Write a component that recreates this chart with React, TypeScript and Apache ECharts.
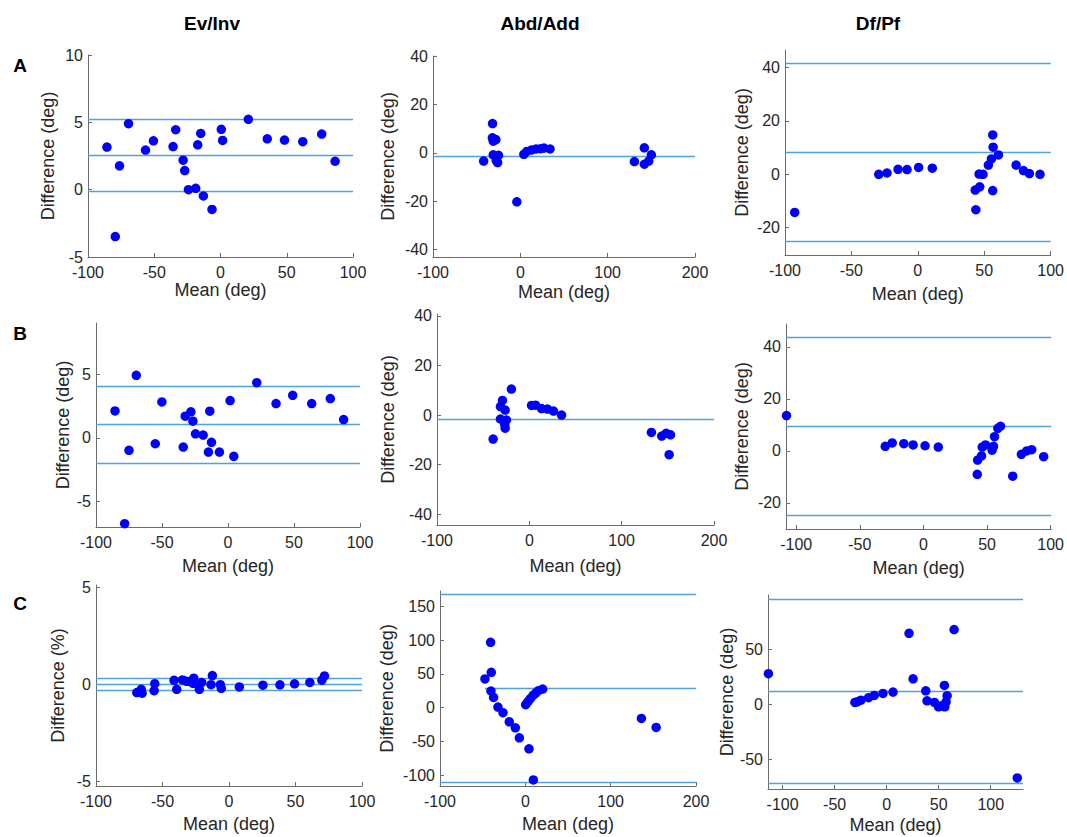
import React, { useEffect, useRef } from "react";
import * as echarts from "echarts";

// ---- data: [mean, difference] pairs per panel ----
const evInvA: [number, number][] = [
  [-85.7, 3.16], [-79.4, -3.48], [-76.2, 1.77], [-69.4, 4.9], [-56.6, 2.94], [-50.6, 3.63],
  [-35.8, 3.2], [-33.8, 4.45], [-28.2, 2.19], [-27, 1.42], [-24.2, 0], [-18.7, 0.1],
  [-17.2, 3.33], [-14.9, 4.18], [-12.9, -0.47], [-6.4, -1.47], [0.6, 4.48], [1.6, 3.66],
  [21, 5.22], [35.3, 3.78], [48.3, 3.68], [62.1, 3.56], [76.4, 4.13], [86.5, 2.11],
];
const evInvALines = [5.2, 2.54, -0.12];

const abdAddA: [number, number][] = [
  [-42, -3.4], [-31.8, 12.1], [-32, 6.2], [-28, 5.5], [-31, 4.8], [-31, -0.8], [-25, -1],
  [-27.6, -3.1], [-26, -4], [-4, -20.2], [4, -0.6], [7.5, 0.6], [13, 1.2], [18, 1.6],
  [23, 1.7], [27, 2], [34, 1.6], [130.6, -3.6], [142, 2.1], [142, -4.7], [147, -3.4], [150, -0.8],
];
const abdAddALines = [-1.3];

const dfPfA: [number, number][] = [
  [-92.7, -14.4], [-29.4, -0.1], [-23.2, 0.4], [-14.9, 1.8], [-8.1, 1.7], [0.6, 2.5], [10.9, 2.2],
  [43.2, -6], [43.7, -13.4], [46.6, -4.8], [46.1, 0], [49.1, -0.1], [53.1, 3.4], [55.4, 5.7],
  [56.4, -6.2], [56.4, 14.7], [56.7, 10.1], [60.7, 7.2], [74, 3.4], [79.5, 1.3], [84, 0.2], [92, -0.1],
];
const dfPfALines = [41.6, 8.2, -25.2];

const evInvB: [number, number][] = [
  [-85.6, 2.1], [-78.3, -6.74], [-75, -0.99], [-69.5, 4.9], [-55.1, -0.47], [-50.1, 2.81],
  [-33.9, -0.73], [-32.4, 1.69], [-28.1, 2.03], [-26.6, 1.3], [-24.6, 0.31], [-18.8, 0.21],
  [-13.8, 2.08], [-14.8, -1.12], [-12.5, -0.36], [-6.5, -1.12], [1.6, 2.92], [4.4, -1.46],
  [21.8, 4.32], [36.4, 2.68], [49, 3.33], [63.4, 2.68], [77.5, 3.07], [87.6, 1.43],
];
const evInvBLines = [4.06, 1.02, -2.0];

const abdAddB: [number, number][] = [
  [-39.2, -9.7], [-31.3, -1.6], [-31.3, 3.4], [-29.1, 5.9], [-26.2, 2], [-24.8, -2],
  [-26.2, -5.3], [-26.6, -3.8], [-19.4, 10.5], [2.4, 3.9], [6.7, 4.0], [13.2, 2.6],
  [19.7, 2.4], [26.2, 1.6], [34.9, 0], [132.2, -7.0], [143.4, -8.5], [148.2, -7.4],
  [152.9, -8], [151.4, -16],
];
const abdAddBLines = [-1.6];

const dfPfB: [number, number][] = [
  [-107.6, 13.6], [-30, 1.8], [-24.5, 3.1], [-15.4, 2.8], [-8.1, 2.3], [1.3, 2.0], [11.7, 1.5],
  [42.3, -9], [42.6, -3.5], [45.7, -1.9], [46.2, 1.5], [48.8, 2.3], [54, 0.3], [55.1, 1.8],
  [55.9, 5.5], [58.5, 8.7], [60.6, 9.5], [70.2, -9.7], [77, -1.3], [81.2, 0], [85.1, 0.5], [94.5, -2.2],
];
const dfPfBLines = [43.8, 9.5, -24.9];

const evInvC: [number, number][] = [
  [-69.3, -0.43], [-66, -0.26], [-65.3, -0.46], [-56.3, -0.33], [-55.8, 0.03], [-41.3, 0.2],
  [-39.3, -0.26], [-35, 0.22], [-31.8, 0.15], [-29.3, 0.14], [-27, 0.05], [-26.5, 0.31],
  [-22.3, -0.26], [-20.5, 0.09], [-13.5, -0.02], [-12.5, 0.45], [-6.5, -0.02], [-5.8, -0.21],
  [7.8, -0.14], [25.5, -0.05], [38.3, -0.03], [49.3, 0.02], [60.8, 0.09], [69.8, 0.21], [71.8, 0.43],
];
const evInvCLines = [0.29, 0, -0.29];

const abdAddC: [number, number][] = [
  [-47.3, 42.6], [-40.7, 97], [-39.9, 52.5], [-40.3, 24.8], [-37.2, 15.3], [-32.1, 1],
  [-26.2, -7.4], [-18.8, -20.8], [-11.7, -29.7], [-7, -44.6], [4.3, -60.9], [9.4, -107],
  [0.4, 4.5], [3.1, 8.9], [5.9, 13.4], [9, 18.3], [12.1, 21.8], [15.3, 25.2], [20.3, 27.7],
  [136, -15.8], [153.3, -29.2],
];
const abdAddCLines = [168.8, 28.2, -110.9];

const dfPfC: [number, number][] = [
  [-113.6, 27.6], [-30.5, 1.5], [-28.3, 2.1], [-24.7, 3.6], [-17.3, 5.8], [-11.9, 7.9],
  [-3.5, 9.7], [6.1, 10.9], [21.5, 64.2], [25.4, 23], [37.6, 12.1], [38.8, 3], [45.9, 1.5],
  [49.8, -2.4], [52.6, -1.5], [55.9, -2.4], [55.5, 17], [57.1, 2.1], [58.1, 7.6], [64.8, 67.6],
  [125.5, -67],
];
const dfPfCLines = [95.5, 11.5, -72.1];

const columnTitles = ["Ev/Inv", "Abd/Add", "Df/Pf"];
const rowLabels = ["A", "B", "C"];

const ticks100 = [-100, -50, 0, 50, 100];
const ticks200 = [-100, 0, 100, 200];

type Panel = {
  data: [number, number][];
  lines: number[];
  grid: [number, number, number, number];
  xr: [number, number];
  yr: [number, number];
  xt: number[];
  yt: number[];
  yName: string;
  yGap: number;
  xGap: number;
  midFromMin?: boolean;
};

const panels: Panel[] = [
  { data: evInvA, lines: evInvALines, grid: [88, 55, 265, 202], xr: [-100, 100], yr: [-5, 10], xt: ticks100, yt: [-5, 0, 5, 10], yName: "Difference (deg)", yGap: 31, xGap: 20 },
  { data: abdAddA, lines: abdAddALines, grid: [433, 56, 262, 201], xr: [-100, 200], yr: [-43, 40], xt: ticks200, yt: [-40, -20, 0, 20, 40], yName: "Difference (deg)", yGap: 36, xGap: 26 },
  { data: dfPfA, lines: dfPfALines, grid: [785, 50, 267, 205], xr: [-100, 100], yr: [-30.4, 46.6], xt: ticks100, yt: [-20, 0, 20, 40], yName: "Difference (deg)", yGap: 34, xGap: 30 },
  { data: evInvB, lines: evInvBLines, grid: [96, 323, 264, 204], xr: [-100, 100], yr: [-7, 9], xt: ticks100, yt: [-5, 0, 5], yName: "Difference (deg)", yGap: 24, xGap: 30 },
  { data: abdAddB, lines: abdAddBLines, grid: [437, 314, 277, 211], xr: [-100, 200], yr: [-44.4, 40.8], xt: ticks200, yt: [-40, -20, 0, 20, 40], yName: "Difference (deg)", yGap: 40, xGap: 32 },
  { data: dfPfB, lines: dfPfBLines, grid: [786, 324, 266, 205], xr: [-108, 100.5], yr: [-30, 48.8], xt: ticks100, yt: [-20, 0, 20, 40], yName: "Difference (deg)", yGap: 35, xGap: 30 },
  { data: evInvC, lines: evInvCLines, grid: [96, 585, 266, 201], xr: [-100, 100], yr: [-5.25, 5.12], xt: ticks100, yt: [-5, 0, 5], yName: "Difference (%)", yGap: 29, xGap: 29 },
  { data: abdAddC, lines: abdAddCLines, grid: [440, 591, 256, 195], xr: [-100, 200], yr: [-116, 173], xt: ticks200, yt: [-100, -50, 0, 50, 100, 150], yName: "Difference (deg)", yGap: 44, xGap: 29, midFromMin: true },
  { data: dfPfC, lines: dfPfCLines, grid: [768, 595, 255, 194], xr: [-114, 131], yr: [-77, 99], xt: ticks100, yt: [-50, 0, 50], yName: "Difference (deg)", yGap: 32, xGap: 27 },
];

const FONT = "Liberation Sans, Arial, Helvetica, sans-serif";
const AXIS_COLOR = "#6b6b6b";
const TEXT_COLOR = "#262626";
const LINE_COLOR = "#4ea2e0";
const DOT_COLOR = "#0000ff";

export default function App() {
  const ref = useRef<HTMLDivElement>(null);
  useEffect(() => {
    if (!ref.current) return;
    const chart = echarts.init(ref.current, undefined, { renderer: "svg" });

    const grid = panels.map((p) => ({
      left: p.grid[0], top: p.grid[1], width: p.grid[2], height: p.grid[3], containLabel: false,
    }));
    const axisCommon = {
      axisLine: { show: true, onZero: false, lineStyle: { color: AXIS_COLOR, width: 1 } },
      splitLine: { show: false },
      nameTextStyle: { fontFamily: FONT, fontSize: 18, color: TEXT_COLOR },
    };
    const xAxis = panels.map((p, i) => ({
      type: "value", gridIndex: i, min: p.xr[0], max: p.xr[1],
      name: "Mean (deg)", nameLocation: "middle", nameGap: p.xGap,
      ...axisCommon,
      axisTick: { show: true, inside: true, length: 4, customValues: p.xt, lineStyle: { color: AXIS_COLOR } },
      axisLabel: { show: true, customValues: p.xt, margin: 7, fontFamily: FONT, fontSize: 16, color: TEXT_COLOR },
    }));
    const yAxis = panels.map((p, i) => ({
      type: "value", gridIndex: i, min: p.yr[0], max: p.yr[1],
      name: p.yName, nameLocation: "middle", nameGap: p.yGap, nameRotate: 90,
      ...axisCommon,
      axisTick: { show: true, inside: true, length: 4, customValues: p.yt, lineStyle: { color: AXIS_COLOR } },
      axisLabel: { show: true, customValues: p.yt, margin: 5, fontFamily: FONT, fontSize: 16, color: TEXT_COLOR },
    }));

    const series = panels.map((p, i) => {
      const minX = Math.min(...p.data.map((d) => d[0]));
      const lineData = p.lines.map((v, k) => {
        if (p.midFromMin && k === 1) {
          return [{ coord: [minX, v] }, { coord: [p.xr[1], v] }];
        }
        return { yAxis: v };
      });
      return {
        type: "scatter",
        xAxisIndex: i,
        yAxisIndex: i,
        data: p.data,
        symbol: "circle",
        symbolSize: 9.5,
        itemStyle: { color: DOT_COLOR, opacity: 1 },
        z: 3,
        markLine: {
          silent: true,
          symbol: ["none", "none"],
          label: { show: false },
          lineStyle: { color: LINE_COLOR, width: 1.3, type: "solid" },
          data: lineData,
          z: 2,
        },
      };
    });

    const colCenters = [212, 540, 878];
    const rowCenters = [65, 333, 603];
    const graphic = [
      ...columnTitles.map((t, i) => ({
        type: "text", x: colCenters[i], y: 23,
        style: { text: t, fontFamily: FONT, fontSize: 19, fontWeight: "bold", fill: "#000", align: "center", verticalAlign: "middle" },
      })),
      ...rowLabels.map((t, i) => ({
        type: "text", x: 20, y: rowCenters[i],
        style: { text: t, fontFamily: FONT, fontSize: 19, fontWeight: "bold", fill: "#000", align: "center", verticalAlign: "middle" },
      })),
    ];

    chart.setOption({
      animation: false,
      backgroundColor: "#ffffff",
      textStyle: { fontFamily: FONT },
      grid, xAxis, yAxis, series, graphic,
    } as any);
    return () => chart.dispose();
  }, []);

  return (
    <div
      ref={ref}
      style={{ position: "fixed", left: 0, top: 0, width: 1067, height: 837, background: "#fff" }}
    />
  );
}
